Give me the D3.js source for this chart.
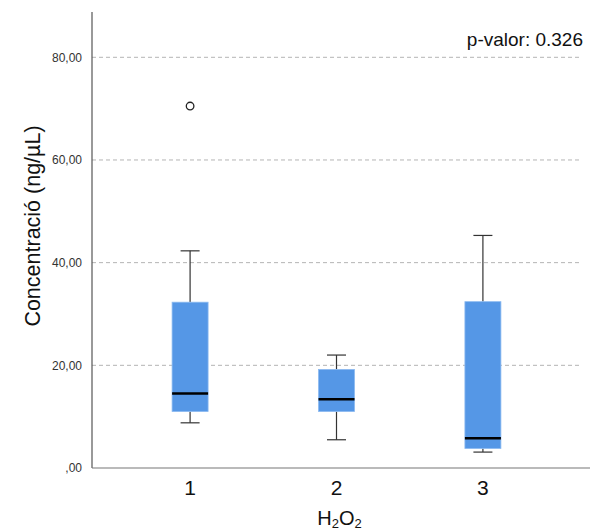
<!DOCTYPE html>
<html>
<head>
<meta charset="utf-8" />
<script src="https://cdnjs.cloudflare.com/ajax/libs/d3/7.8.5/d3.min.js"></script>
<style>
	body { margin: 0; background: #fff; }
	svg text { font-family: "Liberation Sans", Arial, sans-serif; }
</style>
</head>
<body>
<svg id="chart" width="590" height="531"></svg>
<script>
// groups and box statistics
const groups = ['1', '2', '3'];
const whiskerLow = [8.8, 5.5, 3.1];
const q1 = [11.0, 11.0, 3.8];
const median = [14.5, 13.4, 5.8];
const q3 = [32.3, 19.2, 32.4];
const whiskerHigh = [42.3, 22.0, 45.3];
// outliers: [group, value]
const outliers = [['1', 70.5]];
const yTicks = [0, 20, 40, 60, 80];

let svg = d3.select('#chart');
let plotLeft = 92, plotRight = 581, plotTop = 12, plotBottom = 468;

let x = d3.scalePoint()
	.domain(groups)
	.range([plotLeft, plotRight])
	.padding(0.67);

let y = d3.scaleLinear()
	.domain([0, 80])
	.range([plotBottom, 57.3]);

function fmt(v) {
	if (v == 0) return ',00';
	return v.toFixed(2).replace('.', ',');
}

// grid lines
svg.append('g')
	.selectAll('line')
	.data(yTicks.filter(d => d > 0))
	.enter()
	.append('line')
		.attr('x1', plotLeft)
		.attr('x2', plotRight)
		.attr('y1', d => y(d))
		.attr('y2', d => y(d))
		.attr('stroke', '#b4b4b4')
		.attr('stroke-width', 1)
		.attr('stroke-dasharray', '4,3');

// y tick labels
svg.append('g')
	.selectAll('text')
	.data(yTicks)
	.enter()
	.append('text')
		.attr('x', 82)
		.attr('y', d => y(d))
		.attr('dy', '0.35em')
		.attr('text-anchor', 'end')
		.attr('font-size', 12)
		.attr('fill', '#333')
		.text(fmt);

// boxes
let box = svg.append('g')
	.selectAll('g')
	.data(groups)
	.enter()
	.append('g');

let bw = 36, cw = 19;

box.append('line')
	.attr('x1', d => x(d))
	.attr('x2', d => x(d))
	.attr('y1', (d, i) => y(whiskerHigh[i]))
	.attr('y2', (d, i) => y(q3[i]))
	.attr('stroke', '#333')
	.attr('stroke-width', 1.2);
box.append('line')
	.attr('x1', d => x(d))
	.attr('x2', d => x(d))
	.attr('y1', (d, i) => y(q1[i]))
	.attr('y2', (d, i) => y(whiskerLow[i]))
	.attr('stroke', '#333')
	.attr('stroke-width', 1.2);
box.append('line')
	.attr('x1', d => x(d) - cw / 2)
	.attr('x2', d => x(d) + cw / 2)
	.attr('y1', (d, i) => y(whiskerHigh[i]))
	.attr('y2', (d, i) => y(whiskerHigh[i]))
	.attr('stroke', '#333')
	.attr('stroke-width', 1.2);
box.append('line')
	.attr('x1', d => x(d) - cw / 2)
	.attr('x2', d => x(d) + cw / 2)
	.attr('y1', (d, i) => y(whiskerLow[i]))
	.attr('y2', (d, i) => y(whiskerLow[i]))
	.attr('stroke', '#333')
	.attr('stroke-width', 1.2);
box.append('rect')
	.attr('x', d => x(d) - bw / 2)
	.attr('width', bw)
	.attr('y', (d, i) => y(q3[i]))
	.attr('height', (d, i) => y(q1[i]) - y(q3[i]))
	.attr('fill', '#5597e6')
	.attr('stroke', '#8cbaf0')
	.attr('stroke-width', 0.8);
box.append('line')
	.attr('x1', d => x(d) - bw / 2)
	.attr('x2', d => x(d) + bw / 2)
	.attr('y1', (d, i) => y(median[i]))
	.attr('y2', (d, i) => y(median[i]))
	.attr('stroke', '#000')
	.attr('stroke-width', 2.5);

// outliers
svg.append('g')
	.selectAll('circle')
	.data(outliers)
	.enter()
	.append('circle')
		.attr('cx', d => x(d[0]))
		.attr('cy', d => y(d[1]))
		.attr('r', 3.8)
		.attr('fill', 'none')
		.attr('stroke', '#222')
		.attr('stroke-width', 1.3);

// axes lines
svg.append('line')
	.attr('x1', plotLeft).attr('x2', plotLeft)
	.attr('y1', plotTop).attr('y2', plotBottom)
	.attr('stroke', '#555').attr('stroke-width', 1.2);
svg.append('line')
	.attr('x1', plotLeft).attr('x2', 590)
	.attr('y1', plotBottom).attr('y2', plotBottom)
	.attr('stroke', '#777').attr('stroke-width', 1.2);

// x tick labels
svg.append('g')
	.selectAll('text')
	.data(groups)
	.enter()
	.append('text')
		.attr('x', d => x(d))
		.attr('y', 495)
		.attr('text-anchor', 'middle')
		.attr('font-size', 21)
		.attr('fill', '#111')
		.text(d => d);

// axis titles
let xt = svg.append('text')
	.attr('x', (plotLeft + plotRight) / 2 + 3)
	.attr('y', 525)
	.attr('text-anchor', 'middle')
	.attr('font-size', 20)
	.attr('fill', '#111');
xt.append('tspan').text('H');
xt.append('tspan').attr('font-size', 13).attr('dy', 2.5).text('2');
xt.append('tspan').attr('dy', -2.5).text('O');
xt.append('tspan').attr('font-size', 13).attr('dy', 2.5).text('2');

svg.append('text')
	.attr('transform', 'translate(40,226) rotate(-90)')
	.attr('text-anchor', 'middle')
	.attr('font-size', 21.5)
	.attr('fill', '#111')
	.text('Concentració (ng/µL)');

svg.append('text')
	.attr('x', 583)
	.attr('y', 46)
	.attr('text-anchor', 'end')
	.attr('font-size', 19)
	.attr('fill', '#111')
	.text('p-valor: 0.326');
</script>
</body>
</html>
